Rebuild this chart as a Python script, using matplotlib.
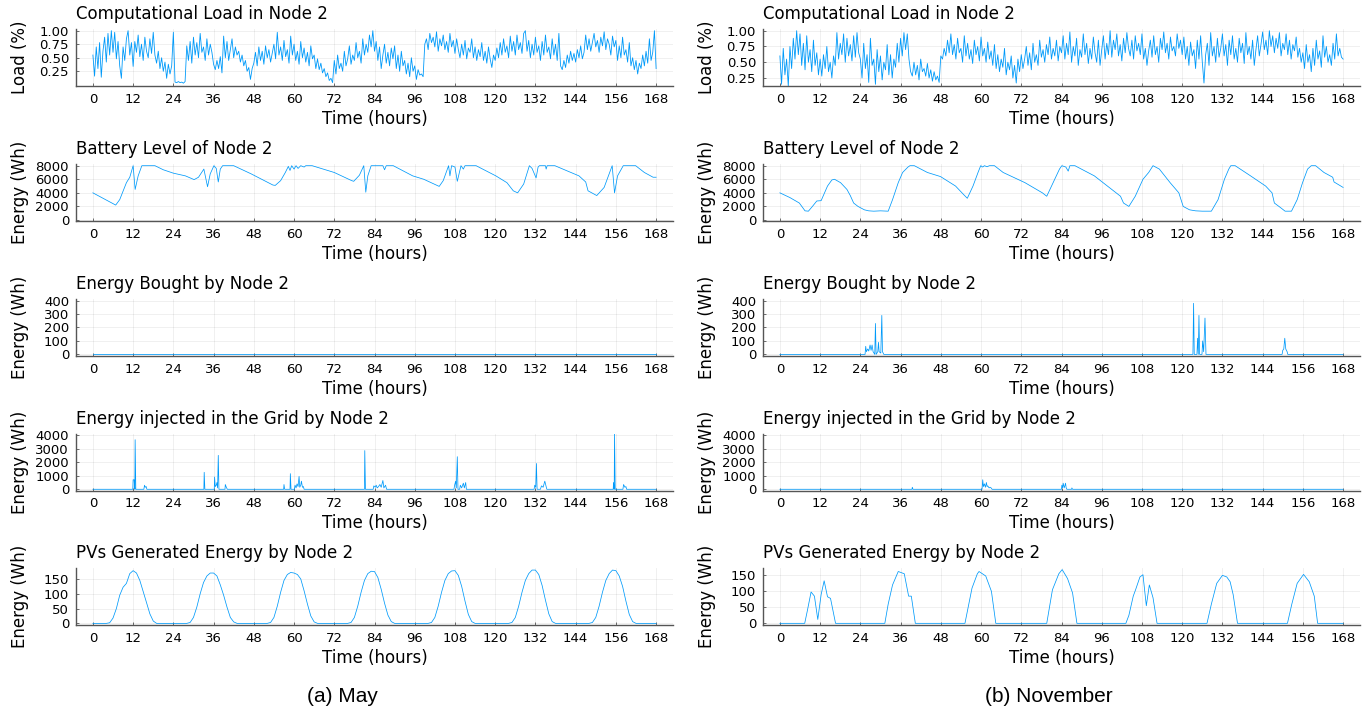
import numpy as np
import matplotlib
matplotlib.use('Agg')
import matplotlib.pyplot as plt

# time grid of the load traces (half-hour steps over one week)
hours = np.arange(0, 168.5, 0.5)
hours_pv = np.arange(0, 169)

# Computational load, May (half-hour samples)
load_may = [
    0.55, 0.16, 0.70, 0.30, 0.78, 0.14, 0.62, 0.88, 0.42, 0.95, 0.55, 1.00, 0.60, 0.97, 0.48, 0.80, 0.35, 0.12, 0.70, 0.45, 0.85, 1.00, 0.55, 0.78,
    0.34, 0.80, 0.60, 0.92, 0.52, 0.75, 0.45, 0.88, 0.62, 0.50, 0.85, 0.58, 0.97, 0.55, 0.40, 0.62, 0.30, 0.50, 0.25, 0.42, 0.12, 0.38, 0.20, 0.35,
    0.97, 0.05, 0.04, 0.06, 0.04, 0.05, 0.03, 0.06, 0.72, 0.45, 0.80, 0.40, 0.88, 0.55, 0.78, 0.50, 0.95, 0.60, 0.70, 0.45, 0.85, 0.55, 0.75, 0.60,
    0.38, 0.28, 0.45, 0.30, 0.52, 0.22, 0.90, 0.50, 0.80, 0.45, 0.65, 0.85, 0.50, 0.70, 0.55, 0.62, 0.42, 0.55, 0.35, 0.45, 0.25, 0.32, 0.10, 0.30,
    0.40, 0.60, 0.35, 0.70, 0.45, 0.62, 0.38, 0.72, 0.50, 0.65, 0.42, 0.58, 0.75, 0.48, 0.97, 0.55, 0.70, 0.45, 0.82, 0.52, 0.65, 0.40, 0.90, 0.55,
    0.75, 0.45, 0.62, 0.38, 0.80, 0.50, 0.68, 0.42, 0.60, 0.35, 0.72, 0.48, 0.55, 0.30, 0.48, 0.28, 0.40, 0.22, 0.30, 0.15, 0.22, 0.08, 0.12, 0.04,
    0.45, 0.20, 0.55, 0.30, 0.40, 0.25, 0.62, 0.35, 0.48, 0.72, 0.38, 0.55, 0.45, 0.78, 0.50, 0.62, 0.40, 0.85, 0.55, 0.75, 0.60, 0.92, 0.70, 1.00,
    0.62, 0.80, 0.45, 0.70, 0.30, 0.55, 0.75, 0.40, 0.60, 0.35, 0.68, 0.48, 0.72, 0.30, 0.55, 0.25, 0.62, 0.35, 0.45, 0.20, 0.40, 0.15, 0.50, 0.25,
    0.35, 0.10, 0.28, 0.18, 0.20, 0.15, 0.75, 0.85, 0.65, 0.95, 0.78, 0.88, 0.70, 0.98, 0.62, 0.85, 0.72, 0.92, 0.65, 0.80, 0.60, 0.95, 0.70, 0.82,
    0.58, 0.85, 0.65, 0.50, 0.75, 0.55, 0.82, 0.48, 0.68, 0.60, 0.85, 0.50, 0.70, 0.45, 0.65, 0.52, 0.78, 0.45, 0.62, 0.40, 0.70, 0.48, 0.32, 0.55,
    0.45, 0.68, 0.50, 0.78, 0.55, 0.85, 0.60, 0.72, 0.50, 0.90, 0.62, 0.80, 0.55, 0.92, 0.65, 0.78, 0.58, 0.95, 1.00, 0.62, 0.82, 0.50, 0.75, 0.55,
    0.88, 0.60, 0.72, 0.45, 0.80, 0.55, 0.92, 0.60, 0.70, 0.48, 0.85, 0.55, 0.75, 0.45, 0.95, 0.35, 0.28, 0.45, 0.32, 0.55, 0.40, 0.62, 0.45, 0.58,
    0.42, 0.65, 0.50, 0.72, 0.48, 0.60, 0.92, 0.65, 0.85, 0.62, 0.78, 0.95, 0.70, 0.82, 0.60, 0.88, 0.72, 0.98, 0.65, 0.85, 0.75, 0.55, 0.90, 0.70,
    0.82, 0.45, 0.72, 0.50, 0.88, 0.55, 0.65, 0.42, 0.78, 0.35, 0.50, 0.28, 0.45, 0.20, 0.40, 0.30, 0.55, 0.35, 0.62, 0.40, 0.85, 0.45, 0.60, 1.00,
    0.30]

# Computational load, November (half-hour samples)
load_nov = [
    0.60, 0.15, 0.72, 0.30, 0.55, 0.12, 0.75, 0.40, 0.88, 0.55, 1.00, 0.62, 0.95, 0.45, 0.80, 0.38, 0.92, 0.50, 0.70, 0.35, 0.85, 0.45, 0.65, 0.30,
    0.55, 0.28, 0.62, 0.40, 0.75, 0.35, 0.50, 0.25, 0.60, 0.45, 0.97, 0.55, 0.80, 0.62, 0.95, 0.50, 0.88, 0.60, 0.78, 0.52, 0.92, 0.58, 0.97, 0.65,
    0.55, 0.25, 0.80, 0.40, 0.62, 0.18, 0.88, 0.45, 0.55, 0.15, 0.70, 0.35, 0.60, 0.22, 0.50, 0.38, 0.78, 0.30, 0.62, 0.25, 0.55, 0.42, 0.80, 0.50,
    0.88, 0.60, 0.97, 0.70, 0.95, 0.55, 0.35, 0.28, 0.50, 0.30, 0.45, 0.22, 0.55, 0.35, 0.40, 0.28, 0.48, 0.25, 0.38, 0.20, 0.35, 0.22, 0.28, 0.18,
    0.60, 0.55, 0.72, 0.60, 0.85, 0.65, 0.95, 0.62, 0.78, 0.55, 0.88, 0.65, 0.72, 0.50, 0.92, 0.60, 0.80, 0.55, 0.70, 0.48, 0.85, 0.62, 0.75, 0.52,
    0.90, 0.60, 0.72, 0.50, 0.82, 0.55, 0.68, 0.45, 0.78, 0.40, 0.62, 0.35, 0.55, 0.42, 0.72, 0.30, 0.50, 0.38, 0.60, 0.25, 0.45, 0.17, 0.55, 0.35,
    0.62, 0.40, 0.55, 0.75, 0.45, 0.65, 0.38, 0.80, 0.50, 0.62, 0.45, 0.85, 0.58, 0.70, 0.50, 0.78, 0.62, 0.90, 0.55, 0.72, 0.60, 0.85, 0.52, 0.75,
    0.65, 0.92, 0.55, 0.80, 0.62, 0.98, 0.50, 0.75, 0.60, 0.88, 0.45, 0.70, 0.58, 0.95, 0.62, 0.80, 0.48, 0.72, 0.55, 0.90, 0.65, 0.50, 0.85, 0.45,
    0.70, 0.92, 0.55, 0.80, 0.62, 1.00, 0.58, 0.85, 0.70, 0.95, 0.60, 0.78, 0.52, 0.88, 0.65, 0.97, 0.72, 0.60, 0.85, 0.55, 0.92, 0.68, 0.80, 0.62,
    0.95, 0.55, 0.72, 0.45, 0.68, 0.85, 0.58, 0.92, 0.62, 0.75, 0.50, 0.88, 0.70, 0.98, 0.65, 0.80, 0.55, 0.90, 0.68, 0.75, 0.60, 0.95, 0.72, 0.85,
    0.62, 0.90, 0.55, 0.75, 0.45, 0.82, 0.60, 0.70, 0.40, 0.85, 0.55, 0.92, 0.50, 0.17, 0.62, 0.80, 0.45, 0.97, 0.60, 0.75, 0.50, 0.88, 0.58, 0.72,
    0.95, 0.60, 0.78, 0.45, 0.85, 0.62, 0.92, 0.55, 0.72, 0.50, 0.88, 0.65, 0.80, 0.48, 0.97, 0.62, 0.75, 0.55, 0.85, 0.45, 0.70, 0.92, 0.60, 0.78,
    0.98, 0.70, 0.85, 0.62, 1.00, 0.75, 0.92, 0.65, 0.88, 0.72, 0.97, 0.60, 0.80, 0.70, 0.95, 0.62, 0.85, 0.55, 0.78, 0.68, 0.90, 0.58, 0.72, 0.50,
    0.65, 0.40, 0.78, 0.50, 0.62, 0.35, 0.72, 0.45, 0.85, 0.55, 0.68, 0.42, 0.92, 0.58, 0.75, 0.50, 0.62, 0.45, 0.80, 0.55, 0.95, 0.60, 0.72, 0.58,
    0.55]

# Battery level (hour, Wh)
bat_may = [(0, 4000), (6.8, 2200), (8, 3000), (10, 5500), (11, 6300), (12, 8000), (12.6, 4500), (13.5, 6500),
           (14.6, 8000), (18.5, 8000), (21, 7400), (24, 6900), (27.6, 6500), (30.2, 5950), (31.5, 6300),
           (33.1, 7500), (34.2, 4900), (35, 6800), (36.1, 8000), (36.8, 7600), (37.4, 5600), (38, 7500),
           (38.7, 8000), (42, 8000), (47.2, 6800), (53.7, 5150), (54.4, 5100), (56, 5800), (57.4, 7000),
           (58.3, 7900), (58.8, 7300), (59.3, 8000), (60, 7500), (60.6, 8000), (61.2, 7600), (62, 8000),
           (63, 7800), (63.5, 8000), (65.4, 8000), (72, 7000), (77.2, 5800), (77.8, 5700), (79.5, 6600),
           (80.8, 8000), (81.4, 4100), (82, 6500), (83, 8000), (86.5, 8000), (87, 7400), (87.5, 8000),
           (89.6, 8000), (95.4, 6500), (98.7, 6000), (103.3, 4950), (104.5, 5800), (106.1, 8000),
           (106.5, 6500), (107, 8000), (108, 7800), (108.7, 5700), (109.8, 8000), (110.5, 7500), (111, 8000),
           (114.3, 8000), (120.2, 6500), (123.5, 5500), (125.4, 4300), (126.7, 4000), (128.5, 5300),
           (130.2, 8000), (131, 7600), (132.2, 6200), (132.8, 7800), (133.2, 8000), (135, 8000),
           (135.2, 7500), (135.5, 8000), (137.8, 8000), (145, 6500), (147, 5600), (147.7, 4300),
           (150.3, 3600), (152.5, 4800), (154.9, 8000), (155.6, 4000), (156.5, 6500), (158.2, 8000),
           (161.9, 8000), (164.5, 7000), (167.1, 6300), (168, 6300)]

bat_nov = [(0, 4000), (3, 3300), (5.8, 2500), (7.5, 1350), (8.5, 1300), (9.7, 2000), (11, 2800), (12.3, 2850),
           (14.2, 5000), (15.5, 5900), (16.3, 6000), (18.1, 5500), (20, 4500), (21, 3600), (22, 2500),
           (23.3, 2000), (25.2, 1500), (26.5, 1350), (28, 1300), (30, 1350), (32.3, 1300), (33.6, 3000),
           (35.3, 5500), (36.6, 7000), (38.2, 7800), (38.8, 8000), (40.1, 8000), (44, 7000), (47.9, 6400),
           (52.4, 5000), (54.7, 3800), (55.9, 3200), (57.6, 5000), (59.1, 7000), (59.9, 8000), (60.5, 7800),
           (61, 8000), (61.8, 7850), (62.5, 8000), (64, 8000), (66.6, 7000), (73.1, 5500), (78.3, 4000),
           (79.6, 3500), (81.5, 5500), (83.4, 7500), (84.1, 8000), (85.3, 7800), (86, 7200), (86.5, 8000),
           (88, 8000), (93.8, 6500), (97.7, 5000), (101.6, 3500), (102.5, 2500), (104.1, 2000), (106, 3500),
           (108.3, 6000), (110, 7000), (111.3, 8000), (113.2, 7500), (116.4, 5500), (119, 4000),
           (120.3, 2000), (122.2, 1500), (124, 1350), (126, 1300), (128.7, 1300), (130.7, 3000),
           (132.6, 6000), (133.9, 7500), (134.5, 8000), (135.8, 8000), (140.4, 6500), (144.9, 5000),
           (146.8, 4000), (147.5, 2500), (149.4, 1800), (150.7, 1300), (152.6, 1300), (154.3, 3000),
           (155.9, 5500), (157.4, 7500), (158.5, 8000), (159.8, 8000), (162.3, 7000), (164.9, 6300),
           (165.3, 5600), (168, 4800)]

# Energy bought from the grid (hour, Wh)
buy_may = [(0, 0), (168, 0)]
buy_nov = [(0, 0), (25.4, 0), (25.6, 60), (25.8, 20), (26.2, 40), (26.5, 25), (26.9, 70), (27.2, 30), (27.5, 70),
           (27.8, 20), (28.3, 0), (28.5, 230), (28.7, 0), (29.2, 20), (29.4, 90), (29.6, 20), (30.1, 10),
           (30.4, 290), (30.6, 20), (31, 0), (123.2, 0), (123.4, 380), (123.6, 0), (124.4, 0), (124.6, 120),
           (124.8, 0), (125.0, 290), (125.2, 0), (125.9, 0), (126.1, 100), (126.4, 20), (126.8, 270),
           (127.1, 0), (149.8, 0), (150.0, 30), (150.3, 40), (150.6, 120), (150.9, 40), (151.3, 20),
           (151.5, 0), (168, 0)]

# Energy injected in the grid (hour, Wh)
inj_may = [(0, 0), (11.9, 0), (12.0, 700), (12.3, 700), (12.5, 0), (12.6, 3650), (12.8, 0), (15.2, 0), (15.4, 300),
           (15.6, 150), (15.9, 200), (16.1, 0), (33.1, 0), (33.2, 1250), (33.4, 0), (36.2, 0), (36.3, 900),
           (36.5, 200), (36.8, 300), (37.0, 500), (37.2, 100), (37.4, 2500), (37.6, 0), (39.4, 0), (39.5, 350),
           (39.8, 150), (40.1, 0), (56.9, 0), (57.0, 350), (57.2, 0), (58.8, 0), (58.9, 1150), (59.1, 0),
           (60.1, 0), (60.3, 300), (60.6, 100), (60.9, 400), (61.2, 200), (61.5, 950), (61.7, 150), (62.0, 300),
           (62.2, 600), (62.5, 150), (62.8, 200), (63.0, 0), (81.0, 0), (81.1, 2850), (81.3, 0), (83.6, 0),
           (83.8, 250), (84.2, 150), (84.5, 300), (84.8, 100), (85.2, 200), (85.6, 350), (86.0, 150),
           (86.5, 650), (86.8, 100), (87.3, 300), (87.6, 0), (107.7, 0), (107.9, 300), (108.2, 600),
           (108.4, 100), (108.7, 2400), (108.9, 0), (109.4, 0), (109.6, 300), (110.0, 100), (110.5, 450),
           (110.8, 100), (111.2, 500), (111.4, 0), (131.6, 0), (131.8, 300), (132.1, 150), (132.3, 1900),
           (132.5, 0), (133.5, 0), (133.8, 250), (134.3, 150), (134.8, 600), (135.1, 300), (135.4, 0),
           (155.2, 0), (155.3, 500), (155.5, 0), (155.6, 4100), (155.8, 0), (158.1, 0), (158.3, 350),
           (158.7, 150), (159.0, 200), (159.2, 0), (168, 0)]
inj_nov = [(0, 0), (39.4, 0), (39.5, 150), (39.7, 0), (60.3, 0), (60.5, 700), (60.7, 200), (61.0, 400), (61.3, 150),
           (61.6, 500), (61.8, 200), (62.0, 250), (62.4, 100), (62.7, 150), (63.0, 100), (63.3, 0), (84.0, 0),
           (84.1, 300), (84.3, 100), (84.5, 450), (84.8, 100), (85.0, 250), (85.2, 450), (85.4, 100),
           (85.6, 0), (87.0, 0), (87.1, 100), (87.3, 0), (168, 0)]

# PV generation, May (hourly Wh)
pv_may = [
    0, 0, 0, 0, 0, 2, 18, 50, 95, 122, 135, 168, 178, 170, 145, 108, 70, 32, 8, 0, 0, 0, 0, 0,
    0, 0, 0, 0, 0, 3, 20, 55, 100, 138, 160, 170, 170, 160, 130, 95, 55, 20, 5, 0, 0, 0, 0, 0,
    0, 0, 0, 0, 0, 3, 20, 58, 105, 145, 165, 172, 170, 165, 150, 110, 65, 25, 5, 0, 0, 0, 0, 0,
    0, 0, 0, 0, 0, 3, 20, 58, 105, 145, 168, 176, 175, 155, 115, 68, 28, 6, 0, 0, 0, 0, 0, 0,
    0, 0, 0, 0, 0, 3, 20, 58, 105, 145, 168, 177, 178, 162, 125, 75, 30, 6, 0, 0, 0, 0, 0, 0,
    0, 0, 0, 0, 0, 3, 20, 58, 105, 145, 168, 180, 180, 165, 128, 78, 32, 6, 0, 0, 0, 0, 0, 0,
    0, 0, 0, 0, 0, 3, 20, 58, 105, 145, 168, 180, 178, 160, 125, 75, 30, 6, 0, 0, 0, 0, 0, 0,
    0]

# PV generation, November (hour, Wh)
pv_nov = [(0, 0), (7.4, 0), (8.2, 40), (9.3, 98), (10.3, 85), (11.3, 12), (12.3, 90), (13.2, 133), (14.2, 83),
          (15.1, 78), (16.6, 0), (31.3, 0), (32.3, 60), (33.6, 120), (35.3, 162), (37.1, 155), (38.4, 85),
          (39.2, 85), (40.4, 0), (55.2, 0), (57.3, 110), (58.9, 155), (59.4, 162), (61.4, 148), (63.1, 100),
          (64.4, 0), (79.6, 0), (81.3, 105), (83.2, 155), (84.2, 168), (85.8, 140), (87.3, 95), (88.6, 0),
          (103.2, 0), (104.1, 25), (105.4, 85), (106.1, 105), (107.4, 145), (108.3, 152), (109.3, 55),
          (110.2, 120), (111.3, 80), (112.5, 0), (127.4, 0), (128.7, 60), (130.3, 125), (132, 150),
          (133.3, 145), (134.3, 130), (135.2, 90), (136.5, 0), (151.4, 0), (152.7, 60), (154.3, 125),
          (156.2, 153), (157.9, 130), (159.4, 85), (160.4, 0), (168, 0)]

xticks = list(range(0, 169, 12))
titles = ['Computational Load in Node 2', 'Battery Level of Node 2', 'Energy Bought by Node 2',
          'Energy injected in the Grid by Node 2', 'PVs Generated Energy by Node 2']
ylabels = ['Load (%)', 'Energy (Wh)', 'Energy (Wh)', 'Energy (Wh)', 'Energy (Wh)']
yticks = [[0.25, 0.5, 0.75, 1.0], [0, 2000, 4000, 6000, 8000], [0, 100, 200, 300, 400],
          [0, 1000, 2000, 3000, 4000], [0, 50, 100, 150]]
ytlabels = [['0.25', '0.50', '0.75', '1.00']] + [[str(v) for v in t] for t in yticks[1:]]

def pts(p):
    a = np.array(p, dtype=float)
    return a[:, 0], a[:, 1]

series = {
    0: [(hours, load_may), (hours, load_nov)],
    1: [pts(bat_may), pts(bat_nov)],
    2: [pts(buy_may), pts(buy_nov)],
    3: [pts(inj_may), pts(inj_nov)],
    4: [(hours_pv, pv_may), pts(pv_nov)],
}
ylims = {
    0: [(-0.022, 1.031), (0.123, 1.027)],
    1: [(-147, 8250), (-147, 8250)],
    2: [(-12, 412), (-12, 412)],
    3: [(-90, 4110), (-90, 4110)],
    4: [(-5.5, 187), (-5.2, 173)],
}

blue = '#009AFA'
W, H = 1371, 715
fig = plt.figure(figsize=(W / 100, H / 100), dpi=100)

col_left = [76, 763]
col_w = 597
row_bottom = [86, 221, 356, 490.5, 625]
row_h = 57

for r in range(5):
    for c in range(2):
        ax = fig.add_axes([col_left[c] / W, 1 - row_bottom[r] / H, col_w / W, row_h / H])
        x, y = series[r][c]
        ax.plot(x, y, color=blue, lw=0.6 if r == 0 else 0.55)
        ax.set_xlim(-5.04, 173.04)
        ax.set_ylim(*ylims[r][c])
        ax.set_xticks(xticks)
        ax.set_yticks(yticks[r])
        ax.set_yticklabels(ytlabels[r])
        ax.grid(True, color='black', alpha=0.07, lw=0.6)
        for s in ['top', 'right']:
            ax.spines[s].set_visible(False)
        for s in ['left', 'bottom']:
            ax.spines[s].set_color('#555555')
            ax.spines[s].set_linewidth(1.0)
        ax.tick_params(direction='in', length=2.5, width=0.6, color='#555555',
                       labelsize=9.5, pad=5)
        ax.set_title(titles[r], loc='left', fontsize=12, pad=7)
        ax.set_xlabel('Time (hours)', fontsize=12)
        ax.xaxis.set_label_coords(0.5, -0.42)
        ax.set_ylabel(ylabels[r], fontsize=12)
        ax.yaxis.set_label_coords(-0.078, 0.5)

fig.text(342 / W, 1 - 697 / H, '(a) May', ha='center', va='center', fontsize=15, family='Liberation Sans')
fig.text(1049 / W, 1 - 697 / H, '(b) November', ha='center', va='center', fontsize=15, family='Liberation Sans')

fig.savefig('out.png', dpi=100)
